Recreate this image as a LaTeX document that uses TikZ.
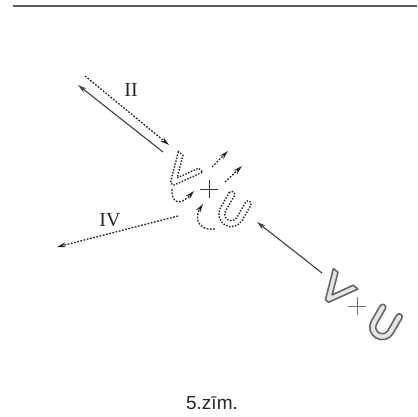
\documentclass[tikz,border=0pt]{standalone}
\usepackage{fontspec}
\newfontfamily\capfont{Liberation Sans}
\newfontfamily\romfont{Liberation Serif}
\usetikzlibrary{arrows.meta}

\begin{document}
\begin{tikzpicture}[x=1pt, y=-1pt,
    tip/.style={-{Stealth[length=9pt, width=5pt]}},
    solidline/.style={draw=black!75, line width=1.1pt},
    dashline/.style={draw=black!85, line width=1.3pt, dash pattern=on 1.8pt off 1.5pt},
    dotrim/.style={draw=black!85, line width=2pt, line cap=round, dash pattern=on 0pt off 3pt},
    rim/.style={draw=black!60, line width=1.6pt, fill=black!10, line join=round},
    roman/.style={font=\romfont\fontsize{20}{24}\selectfont, text=black!85},
    pics/vee/.style={code={
      \path[#1] (-16,-29) -- (-10,-29) -- (0,-8) -- (10,-29) -- (16,-29) -- (2,0) -- (-2,0) -- cycle;}},
    pics/you/.style={code={
      \path[#1] (-12.5,-30) -- (-12.5,-12.5) arc (180:0:12.5) -- (12.5,-30)
        arc (0:-180:3) -- (6.5,-12.5) arc (0:180:6.5) -- (-6.5,-30) arc (0:-180:3) -- cycle;}},
    pics/cross/.style={code={\draw[#1] (-9,0) -- (9,0) (0,-9) -- (0,9);}}
  ]
  \useasboundingbox (0,0) rectangle (417,417);

  % rule at the top of the page
  \coordinate (ruleL) at (13,6);
  \coordinate (ruleR) at (417,6);
  \draw[black!65, line width=1.8pt] (ruleL) -- (ruleR);

  % small dotted V + U in the middle
  \pic[rotate=-40] at (172,184) {vee=dotrim};
  \pic at (209,189) {cross={black!80, line width=0.8pt}};
  \pic[rotate=-30] at (225,225) {you=dotrim};

  % large V + U at the lower right
  \pic[rotate=-40] at (327,301) {vee=rim};
  \pic at (357,306) {cross={black!55, line width=0.9pt}};
  \pic[rotate=-30] at (376,338) {you=rim};

  % end points of the connectors
  \coordinate (IIsolA) at (163,152);
  \coordinate (IIsolB) at (78,85);
  \coordinate (IIdotA) at (85,76);
  \coordinate (IIdotB) at (169,145);
  \coordinate (IVa) at (178,216);
  \coordinate (IVb) at (57,247);
  \coordinate (veeA) at (172,189);
  \coordinate (veeB) at (194,191);
  \coordinate (youA) at (215,229);
  \coordinate (youB) at (203,204);
  \coordinate (outA) at (212,167);
  \coordinate (outB) at (228,151);
  \coordinate (outC) at (225,182);
  \coordinate (outD) at (242,166);
  \coordinate (inA) at (322,273);
  \coordinate (inB) at (257,222);

  \draw[solidline, tip] (IIsolA) -- (IIsolB);
  \draw[dashline, tip] (IIdotA) -- (IIdotB);
  \draw[dashline, tip] (IVa) -- (IVb);
  \draw[dashline, tip] (veeA) .. controls (171,202) and (179,207) .. (veeB);
  \draw[dashline, tip] (youA) .. controls (196,231) and (195,216) .. (youB);
  \draw[dashline, tip] (outA) -- (outB);
  \draw[dashline, tip] (outC) -- (outD);
  \draw[solidline, tip] (inA) -- (inB);

  \node[roman] (lblII) at (131,90) {II};
  \node[roman] (lblIV) at (110,220) {IV};
  \node[font=\capfont\fontsize{19}{22}\selectfont, text=black!85] (caption) at (212,403) {5.zīm.};
\end{tikzpicture}
\end{document}
